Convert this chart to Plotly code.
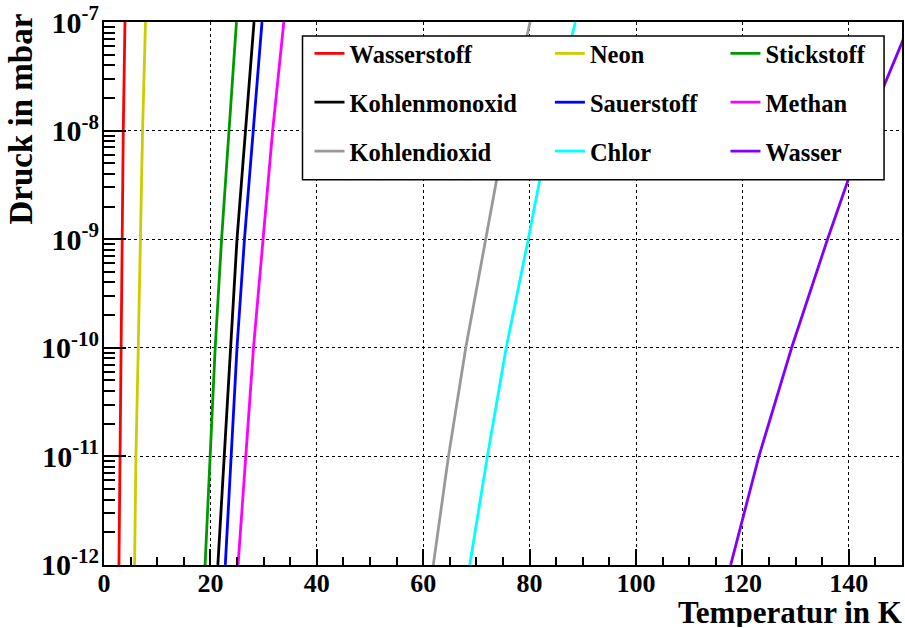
import plotly.graph_objects as go

# Dampfdruckkurven: Temperatur (K) bei gegebenem Druck (mbar)
pressure_mbar = [1e-12, 1e-11, 1e-10, 1e-9, 1e-8, 1e-7]

t_wasserstoff = [2.81, 3.00, 3.19, 3.37, 3.62, 3.94]
t_neon = [5.75, 6.00, 6.44, 6.81, 7.25, 7.80]
t_stickstoff = [19.0, 19.9, 20.9, 22.1, 23.5, 24.9]
t_kohlenmonoxid = [21.4, 22.6, 23.7, 25.0, 26.6, 28.2]
t_sauerstoff = [22.8, 23.9, 25.0, 26.4, 28.0, 29.7]
t_methan = [25.2, 26.6, 28.1, 29.9, 31.7, 33.8]
t_kohlendioxid = [61.9, 64.75, 68.0, 71.75, 75.5, 80.1]
t_chlor = [68.75, 72.06, 75.6, 79.75, 83.7, 88.6]
t_wasser = [117.8, 123.1, 129.25, 136.0, 143.1, 151.6]

x_ticks = [0, 20, 40, 60, 80, 100, 120, 140]
y_ticks = [1e-12, 1e-11, 1e-10, 1e-9, 1e-8, 1e-7]
y_ticktext = ["10<sup>-12</sup>", "10<sup>-11</sup>", "10<sup>-10</sup>",
              "10<sup>-9</sup>", "10<sup>-8</sup>", "10<sup>-7</sup>"]

# (name, temperatures, colour, legend column)
gases = [
    ("Wasserstoff", t_wasserstoff, "#ff0000", "legend"),
    ("Neon", t_neon, "#cccc00", "legend2"),
    ("Stickstoff", t_stickstoff, "#009900", "legend3"),
    ("Kohlenmonoxid", t_kohlenmonoxid, "#000000", "legend"),
    ("Sauerstoff", t_sauerstoff, "#0000ff", "legend2"),
    ("Methan", t_methan, "#ff00ff", "legend3"),
    ("Kohlendioxid", t_kohlendioxid, "#999999", "legend"),
    ("Chlor", t_chlor, "#00ffff", "legend2"),
    ("Wasser", t_wasser, "#8000ff", "legend3"),
]

SERIF = "Liberation Serif, Times New Roman, Tinos, DejaVu Serif, serif"
fig = go.Figure()
for name, temps, color, leg in gases:
    fig.add_trace(go.Scatter(
        x=temps, y=pressure_mbar, mode="lines", name=name,
        line=dict(color=color, width=2.8),
        legend=leg, legendgroup=name,
    ))

W, H = 905, 628
ml, mr, mt, mb = 104, 1, 18, 63
pw, ph = W - ml - mr, H - mt - mb

def px_x(p):
    return (p - ml) / pw

def px_y(p):
    return (H - mb - p) / ph

legend_font = dict(family=SERIF, size=24.5, color="black", weight="bold")
legend_common = dict(
    font=legend_font, bgcolor="rgba(0,0,0,0)", borderwidth=0,
    traceorder="grouped", tracegroupgap=14, xanchor="left", yanchor="top",
    itemclick=False, itemdoubleclick=False,
)

minor_y = [k * 10.0 ** e for e in range(-12, -7) for k in range(2, 10)]

fig.update_layout(
    width=W, height=H,
    margin=dict(l=ml, r=mr, t=mt, b=mb),
    paper_bgcolor="white", plot_bgcolor="white",
    showlegend=True,
    legend=dict(x=px_x(310), y=px_y(27), **legend_common),
    legend2=dict(x=px_x(551), y=px_y(27), **legend_common),
    legend3=dict(x=px_x(727), y=px_y(27), **legend_common),
    xaxis=dict(
        range=[0, 150], tickmode="array", tickvals=x_ticks,
        ticks="inside", ticklen=16, tickwidth=1.5, tickcolor="black",
        showline=True, linecolor="black", linewidth=2, mirror=True,
        showgrid=True, gridcolor="black", griddash="dot", gridwidth=1,
        zeroline=False, ticklabelstandoff=-6,
        tickfont=dict(family=SERIF, size=26, color="black", weight="bold"),
        minor=dict(dtick=5, tick0=0, ticks="inside", ticklen=8,
                   tickwidth=1.5, tickcolor="black", showgrid=False),
    ),
    yaxis=dict(
        type="log", range=[-12.0005, -6.9995], tickmode="array",
        tickvals=y_ticks, ticktext=y_ticktext,
        ticks="inside", ticklen=22, tickwidth=1.5, tickcolor="black",
        showline=True, linecolor="black", linewidth=2, mirror=True,
        showgrid=True, gridcolor="black", griddash="dot", gridwidth=1,
        zeroline=False, ticklabelstandoff=-3, ticklabeloverflow="allow",
        tickfont=dict(family=SERIF, size=30, color="black", weight="bold"),
        minor=dict(tickmode="array", tickvals=minor_y, ticks="inside",
                   ticklen=11, tickwidth=1.5, tickcolor="black",
                   showgrid=False),
    ),
    shapes=[dict(
        type="rect", xref="paper", yref="paper",
        x0=px_x(303), x1=px_x(886), y0=px_y(177), y1=px_y(32),
        fillcolor="white", line=dict(color="black", width=1.5),
        layer="above",
    )],
    annotations=[
        dict(text="Temperatur in K", xref="paper", yref="paper",
             x=1, y=0, xanchor="right", yanchor="top", yshift=-31,
             xshift=1, height=30, borderpad=0, valign="middle",
             showarrow=False,
             font=dict(family=SERIF, size=31, color="black", weight="bold")),
        dict(text="Druck in mbar", xref="paper", yref="paper",
             x=0, y=1, xanchor="left", yanchor="top",
             xshift=-104, yshift=10, textangle=-90, showarrow=False,
             font=dict(family=SERIF, size=33, color="black", weight="bold")),
    ],
)

fig.write_html("out.html")
